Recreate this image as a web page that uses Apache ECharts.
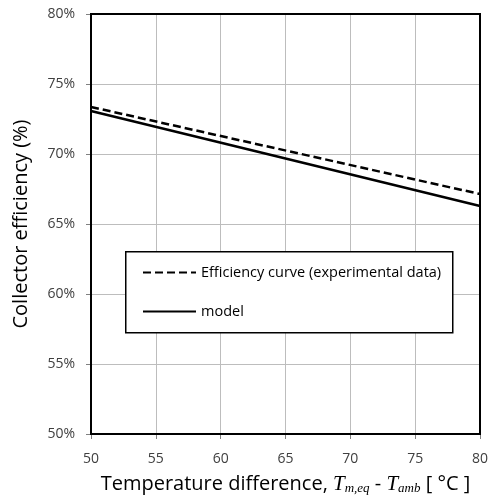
<!DOCTYPE html>
<html>
<head>
<meta charset="utf-8">
<script src="https://cdn.jsdelivr.net/npm/echarts@6/dist/echarts.min.js"></script>
<style>
  html, body { margin: 0; padding: 0; background: #fff; }
  #chart { width: 495px; height: 500px; }
</style>
</head>
<body>
<div id="chart"></div>
<script>
// temperature difference (°C) at the ends of each line
var xVals = [50, 80];
// efficiency (%)
var experimental = [73.36, 67.14];
var model = [73.07, 66.29];
var seriesNames = ['Efficiency curve (experimental data)', 'model'];

var myChart = echarts.init(document.getElementById('chart'));
var font = '"Open Sans", "DejaVu Sans", sans-serif';

var option = {
  animation: false,
  grid: { left: 91, right: 15, top: 14, bottom: 66, outerBoundsMode: 'none' },
  legend: {
    orient: 'vertical',
    left: 137, top: 260,
    itemWidth: 53, itemHeight: 14,
    itemGap: 24,
    z: 6,
    itemStyle: { opacity: 0 },
    textStyle: { fontFamily: font, fontSize: 14.5, color: '#000' },
    data: seriesNames
  },
  xAxis: {
    type: 'value',
    min: 50, max: 80, interval: 5,
    name: '{n|Temperature difference, }{t|T}{s|m,eq}{n| - }{t|T}{s|amb}{n| [ °C ]}',
    nameLocation: 'middle',
    nameGap: 39,
    nameTextStyle: {
      rich: {
        n: { fontFamily: font, fontSize: 20, color: '#000' },
        t: { fontFamily: '"Liberation Serif", serif', fontStyle: 'italic', fontSize: 21, color: '#000' },
        s: { fontFamily: '"Liberation Serif", serif', fontStyle: 'italic', fontSize: 13, color: '#000', verticalAlign: 'bottom', padding: [9, 0, 0, 0] }
      }
    },
    axisLine: { show: true, onZero: false, lineStyle: { color: '#000', width: 2 } },
    axisTick: { show: true, length: 5, lineStyle: { color: '#808080' } },
    axisLabel: { fontFamily: font, fontSize: 14, color: '#404040', margin: 18 },
    splitLine: { show: true, lineStyle: { color: '#bdbdbd', width: 1 } }
  },
  yAxis: {
    type: 'value',
    min: 50, max: 80, interval: 5,
    name: 'Collector efficiency (%)',
    nameLocation: 'middle',
    nameGap: 60,
    nameTextStyle: { fontFamily: font, fontSize: 20, color: '#000' },
    axisLine: { show: true, onZero: false, lineStyle: { color: '#000', width: 2 } },
    axisTick: { show: true, length: 5, lineStyle: { color: '#808080' } },
    axisLabel: { fontFamily: font, fontSize: 14, color: '#404040', margin: 16, formatter: '{value}%' },
    splitLine: { show: true, lineStyle: { color: '#bdbdbd', width: 1 } }
  },
  series: [
    {
      name: seriesNames[0],
      type: 'line',
      symbol: 'none',
      color: '#000',
      lineStyle: { color: '#000', width: 2.5, type: [8, 4] },
      data: xVals.map(function (x, i) { return [x, experimental[i]]; }),
      z: 3
    },
    {
      name: seriesNames[1],
      type: 'line',
      symbol: 'none',
      color: '#000',
      lineStyle: { color: '#000', width: 2.5 },
      data: xVals.map(function (x, i) { return [x, model[i]]; }),
      z: 3
    }
  ]
};

myChart.setOption(option);
// plot frame and legend box
var rect = myChart.getModel().getComponent('grid').coordinateSystem.getRect();
myChart.setOption({
  graphic: [
    {
      type: 'rect',
      left: 125, top: 251,
      shape: { width: 327, height: 81 },
      style: { fill: '#fff', stroke: '#000', lineWidth: 1.5 },
      z: 5
    },
    {
      type: 'rect',
      shape: { x: rect.x, y: rect.y, width: rect.width, height: rect.height },
      style: { fill: 'none', stroke: '#000', lineWidth: 2 },
      silent: true,
      z: 4
    }
  ]
});
</script>
</body>
</html>
